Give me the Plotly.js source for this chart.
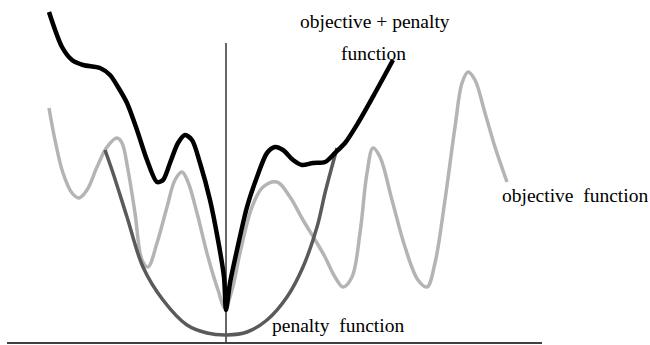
<!DOCTYPE html>
<html>
<head>
<meta charset="utf-8">
<script src="https://cdn.plot.ly/plotly-3.0.1.min.js"></script>
<style>html,body{margin:0;padding:0;background:#fff;}#chart{width:650px;height:345px;}</style>
</head>
<body>
<div id="chart"></div>
<script>
// Values (x position, height above the frame bottom; frame is 650 x 345)
var H = 345;
var combinedX = [49,62,72,83,100,110,118,127,137,147,157,163,170,178,185,192,200,210,218,224,226,230,237,247,257,267,275,283,293,302,313,325,335,345,358,375,393];
var combinedTop = [12,47,60,65,68,75,87,103,130,160,182,180,163,143,135,140,163,200,240,277,310,283,250,207,177,153,147,150,160,165,163,162,153,143,123,93,60];

var objectiveX = [49,55,63,72,79,87,97,107,117,122,128,135,142,148,157,167,175,182,188,197,208,218,225,232,240,252,263,277,290,303,317,325,335,343,352,360,367,373,380,392,405,418,427,435,445,455,462,468,475,485,495,507];
var objectiveTop = [108,140,173,193,198,190,167,147,138,143,170,213,260,267,243,207,180,172,182,213,257,290,308,290,253,207,187,182,197,220,243,257,277,287,277,233,173,148,157,200,247,280,287,263,200,127,83,72,80,113,147,182];

var penaltyX = [105,113,127,143,163,187,207,227,247,267,287,303,317,325,331,337];
var penaltyTop = [150,173,217,267,300,325,333,335,332,320,297,267,227,193,170,148];

var axisVX = [226,226];
var axisVTop = [43,342];
var axisHX = [7,542];
var axisHTop = [343,343];

var labels = ["objective + penalty","function","objective  function","penalty  function"];
var labelX = [375,373,575,338];
var labelTop = [21,53,195,325];

function toH(arr){ return arr.map(function(v){ return H - v; }); }

var traces = [
  {x: axisHX, y: toH(axisHTop), mode:'lines', line:{color:'#000', width:1.6}, hoverinfo:'skip'},
  {x: axisVX, y: toH(axisVTop), mode:'lines', line:{color:'#000', width:1.2}, hoverinfo:'skip'},
  {x: objectiveX, y: toH(objectiveTop), mode:'lines', line:{color:'#b4b4b4', width:3.5, shape:'spline', smoothing:1}, hoverinfo:'skip'},
  {x: penaltyX, y: toH(penaltyTop), mode:'lines', line:{color:'#5a5a5a', width:3.5, shape:'spline', smoothing:1}, hoverinfo:'skip'},
  {x: combinedX, y: toH(combinedTop), mode:'lines', line:{color:'#000', width:4.5, shape:'spline', smoothing:0.8}, hoverinfo:'skip'}
];

var annotations = labels.map(function(t,i){
  return {x: labelX[i], y: H - labelTop[i], xref:'x', yref:'y', text:t, showarrow:false,
          font:{family:'Liberation Serif, Times New Roman, serif', size:19.5, color:'#000'},
          xanchor:'center', yanchor:'middle'};
});

var layout = {
  width:650, height:345,
  margin:{l:0,r:0,t:0,b:0},
  paper_bgcolor:'#fff', plot_bgcolor:'#fff',
  showlegend:false,
  xaxis:{range:[0,650], visible:false, fixedrange:true},
  yaxis:{range:[0,345], visible:false, fixedrange:true},
  annotations: annotations
};

Plotly.newPlot('chart', traces, layout, {staticPlot:true, displayModeBar:false});
</script>
</body>
</html>
